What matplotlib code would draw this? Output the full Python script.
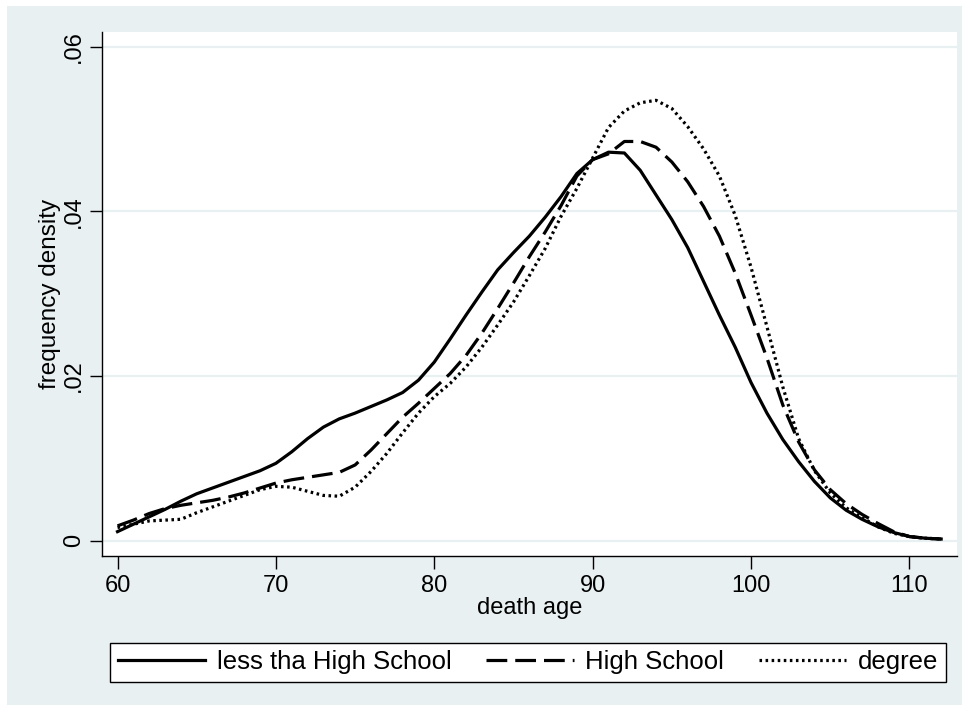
import matplotlib
matplotlib.use("Agg")
import matplotlib.pyplot as plt
from matplotlib.patches import Rectangle

plt.rcParams['font.family'] = ['Liberation Sans', 'DejaVu Sans']

ages = list(range(60, 113))

less_hs = [0.0011, 0.0020, 0.0029, 0.0038, 0.0048, 0.0057, 0.0064, 0.0071, 0.0078, 0.0085,
           0.0094, 0.0108, 0.0124, 0.0138, 0.0148, 0.0155, 0.0163, 0.0171, 0.0180, 0.0195,
           0.0217, 0.0245, 0.0274, 0.0302, 0.0329, 0.0350, 0.0370, 0.0393, 0.0418, 0.0446,
           0.0463, 0.0472, 0.0471, 0.0450, 0.0420, 0.0390, 0.0356, 0.0315, 0.0274, 0.0235,
           0.0192, 0.0155, 0.0123, 0.0096, 0.0072, 0.0052, 0.0037, 0.0026, 0.0017, 0.0010,
           0.0005, 0.0003, 0.0002]

high_school = [0.0018, 0.0025, 0.0033, 0.0039, 0.0043, 0.0046, 0.0049, 0.0053, 0.0058, 0.0064,
               0.0070, 0.0074, 0.0077, 0.0080, 0.0083, 0.0092, 0.0110, 0.0130, 0.0150, 0.0167,
               0.0185, 0.0203, 0.0225, 0.0252, 0.0282, 0.0313, 0.0345, 0.0375, 0.0407, 0.0443,
               0.0463, 0.0470, 0.0485, 0.0485, 0.0478, 0.0460, 0.0436, 0.0406, 0.0370, 0.0325,
               0.0274, 0.0222, 0.0165, 0.0120, 0.0086, 0.0062, 0.0045, 0.0032, 0.0021, 0.0011,
               0.0005, 0.0003, 0.0002]

degree = [0.0016, 0.0020, 0.0024, 0.0025, 0.0026, 0.0034, 0.0041, 0.0048, 0.0055, 0.0062,
          0.0066, 0.0065, 0.0060, 0.0055, 0.0054, 0.0065, 0.0084, 0.0106, 0.0131, 0.0155,
          0.0175, 0.0191, 0.0211, 0.0235, 0.0262, 0.0290, 0.0322, 0.0355, 0.0394, 0.0428,
          0.0465, 0.0502, 0.0522, 0.0532, 0.0535, 0.0525, 0.0503, 0.0476, 0.0443, 0.0395,
          0.0332, 0.0260, 0.0187, 0.0124, 0.0085, 0.0058, 0.0040, 0.0028, 0.0017, 0.0009,
          0.0005, 0.0003, 0.0002]

xticks = [60, 70, 80, 90, 100, 110]
yticks = [0, 0.02, 0.04, 0.06]
ytick_labels = ["0", ".02", ".04", ".06"]
labels = ["less tha High School", "High School", "degree"]

W, H = 970, 711
fig = plt.figure(figsize=(W / 100, H / 100), dpi=100, facecolor="white")
bg = "#e8f0f2"
fig.patches.append(Rectangle((7 / W, 1 - 705 / H), (962 - 7) / W, (705 - 6) / H,
                             transform=fig.transFigure, facecolor=bg, edgecolor="none", zorder=-10))

ax = fig.add_axes([102 / W, 1 - 556 / H, (957 - 102) / W, (556 - 32) / H])
ax.set_facecolor("white")

lw = 2.3
ax.plot(ages, less_hs, color="black", lw=lw, linestyle="-", label=labels[0])
ax.plot(ages, high_school, color="black", lw=lw, linestyle=(0, (6.5, 2.5)), label=labels[1])
ax.plot(ages, degree, color="black", lw=lw, linestyle=(0, (0.8, 1.1)), label=labels[2])

ax.set_xlim(59.02, 113.0)
ax.set_ylim(-0.00186, 0.0618)
ax.set_xticks(xticks)
ax.set_xticklabels([str(t) for t in xticks])
ax.set_yticks(yticks)
ax.set_yticklabels(ytick_labels, rotation=90, va="center")
ax.grid(axis="y", color="#e8f0f2", lw=1.6)
ax.set_axisbelow(True)
for s in ["top", "right"]:
    ax.spines[s].set_visible(False)
for s in ["left", "bottom"]:
    ax.spines[s].set_linewidth(1.0)
    ax.spines[s].set_color("black")
ax.tick_params(axis="both", direction="out", length=9, width=1, labelsize=17, colors="black")
ax.tick_params(axis="y", pad=3)
ax.tick_params(axis="x", pad=5)

ax.set_xlabel("death age", fontsize=17, labelpad=0)
ax.set_ylabel("frequency density", fontsize=17.5, labelpad=2)

leg = fig.legend(loc="lower left", bbox_to_anchor=(110 / W, 1 - 682 / H, (946 - 110) / W, (682 - 636) / H),
                 ncol=3, mode="expand", fontsize=18.5, frameon=True, fancybox=False,
                 handlelength=3.4, handletextpad=0.45, borderaxespad=0.0, borderpad=0.3,
                 columnspacing=1.0)
leg.get_frame().set_edgecolor("black")
leg.get_frame().set_linewidth(1.0)
leg.get_frame().set_facecolor("white")
leg.get_frame().set_alpha(1)

fig.savefig("out.png", dpi=100, facecolor="white")
